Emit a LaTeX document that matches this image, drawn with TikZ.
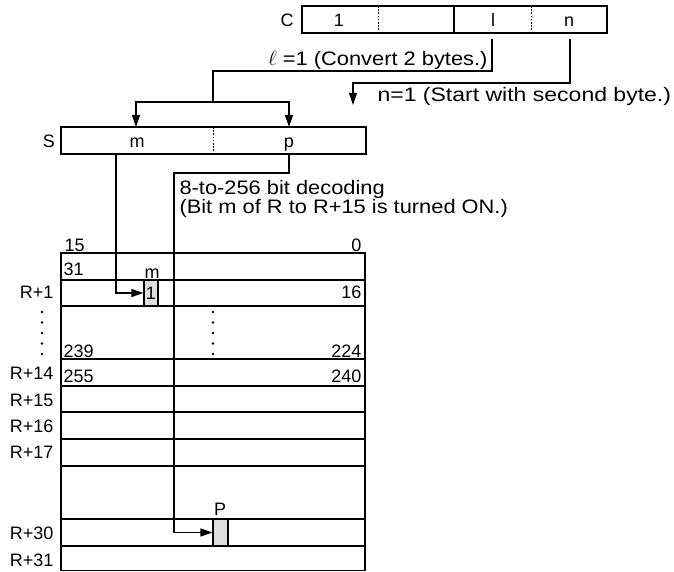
\documentclass[tikz,border=0pt]{standalone}
\usepackage{fontspec}
\setmainfont{Liberation Sans}
\newfontfamily\txtfont[FakeStretch=1.12]{Liberation Sans}
\newfontfamily\txtwidefont[FakeStretch=1.18]{Liberation Sans}
\usetikzlibrary{arrows.meta}
\begin{document}
\begin{tikzpicture}[x=1pt,y=-1pt,
  line width=1.1pt,
  lab/.style={inner sep=0pt, font=\fontsize{18}{18}\selectfont},
  note/.style={inner sep=0pt, font=\txtfont\fontsize{19.5}{19.5}\selectfont},
  widenote/.style={inner sep=0pt, font=\txtwidefont\fontsize{19.5}{19.5}\selectfont},
  conn/.style={line width=1.1pt},
  arr/.style={conn, -{Triangle[length=12pt,width=8pt]}},
  regbox/.style={draw, line width=1.1pt},
  dotdiv/.style={line width=0.9pt, dash pattern=on 1.6pt off 1.6pt},
  rowline/.style={line width=1.5pt},
  bitcell/.style={draw, fill=black!13, line width=1.1pt, inner sep=0pt, minimum width=14pt, minimum height=26pt, font=\fontsize{18}{18}\selectfont},
  vdot/.style={circle, fill=black, inner sep=0pt, minimum size=2.6pt}]

\useasboundingbox (0,0) rectangle (674,572);

% C register
\draw[regbox] (302,6) rectangle (607,33);
\draw[dotdiv] (378,6) -- (378,33);
\draw (454,6) -- (454,33);
\draw[dotdiv] (531,6) -- (531,33);
\node[lab, anchor=base] (cC) at (287,27) {C};
\node[lab, anchor=base] (c1) at (339,27) {1};
\node[lab, anchor=base] (cl) at (493,27) {l};
\node[lab, anchor=base] (cn) at (569,27) {n};

% connectors from C to S
\coordinate (lout) at (492,39);
\coordinate (split) at (213,71);
\coordinate (branch) at (213,102);
\coordinate (tom) at (136,127);
\coordinate (top) at (289,127);
\draw[conn] (lout) |- (split) -- (branch);
\draw[arr] (branch) -| (tom);
\draw[arr] (branch) -| (top);

\coordinate (nout) at (570,39);
\coordinate (nturn) at (353,83);
\coordinate (nend) at (353,105);
\draw[arr] (nout) |- (nturn) -- (nend);

\node[note, anchor=base east] (ltext) at (488,66) {\ensuremath{\ell} =1 (Convert 2 bytes.)};
\node[widenote, anchor=base west] (ntext) at (377,102) {n=1 (Start with second byte.)};

% S register
\draw[regbox] (61,127) rectangle (366,154);
\draw[dotdiv] (213,127) -- (213,154);
\node[lab, anchor=base] (sS) at (49,148) {S};
\node[lab, anchor=base] (sm) at (137,148) {m};
\node[lab, anchor=base] (sp) at (289,148) {p};

\node[note, anchor=base west] (dec1) at (179,194) {8-to-256 bit decoding};
\node[note, anchor=base west] (dec2) at (179,213.5) {(Bit m of R to R+15 is turned ON.)};

% result table
\draw[rowline] (61,253) rectangle (365,570.5);
\foreach \yy in {280,306,359,386,412,439,466,519,546} \draw[rowline] (61,\yy) -- (365,\yy);

\node[bitcell] (mcell) at (151,293) {1};
\node[bitcell, minimum width=15pt, minimum height=27pt] (pcell) at (220.5,532.5) {};

\coordinate (mout) at (116,154);
\draw[arr] (mout) |- (mcell.west);
\coordinate (pout) at (289,154);
\coordinate (pturn) at (174,173);
\draw[arr] (pout) |- (pturn) |- (pcell.west);

\node[lab, anchor=base west] (b15) at (64,251) {15};
\node[lab, anchor=base east] (b0) at (362,251) {0};
\node[lab, anchor=base west] (b31) at (63,275) {31};
\node[lab, anchor=base] (bm) at (152,278) {m};
\node[lab, anchor=base east] (r1) at (54,298) {R+1};
\node[lab, anchor=base east] (b16) at (362,298) {16};
\node[lab, anchor=base west] (b239) at (63,357) {239};
\node[lab, anchor=base east] (b224) at (362,357) {224};
\node[lab, anchor=base east] (r14) at (54,379) {R+14};
\node[lab, anchor=base west] (b255) at (63,382) {255};
\node[lab, anchor=base east] (b240) at (362,382) {240};
\node[lab, anchor=base east] (r15) at (54,406) {R+15};
\node[lab, anchor=base east] (r16) at (54,432) {R+16};
\node[lab, anchor=base east] (r17) at (54,458) {R+17};
\node[lab, anchor=base] (bP) at (220,515) {P};
\node[lab, anchor=base east] (r30) at (54,539) {R+30};
\node[lab, anchor=base east] (r31) at (54,566) {R+31};

\foreach \i in {0,...,4} {
  \node[vdot] (ld\i) at (42,312+10.5*\i) {};
  \node[vdot] (md\i) at (213,312+10.5*\i) {};
}
\end{tikzpicture}
\end{document}
